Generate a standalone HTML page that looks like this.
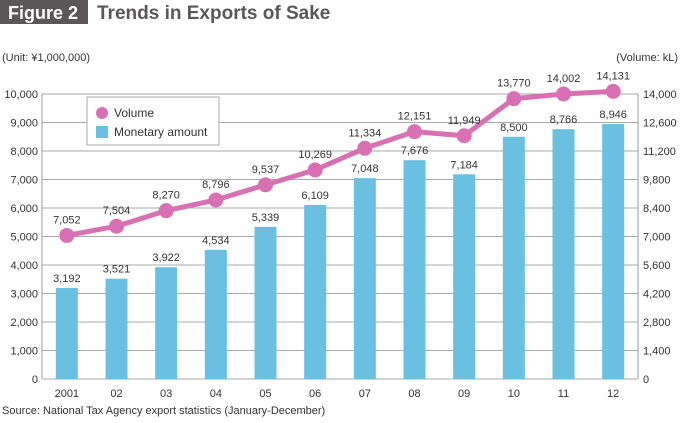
<!DOCTYPE html>
<html><head><meta charset="utf-8"><style>
body{margin:0;background:#fff;font-family:"Liberation Sans",sans-serif;}
svg text{font-family:"Liberation Sans",sans-serif;}
</style></head><body>
<svg id="c" width="680" height="418" xmlns="http://www.w3.org/2000/svg">
<rect x="0" y="0" width="88" height="24" fill="#595757"/>
<text x="8" y="19" font-size="18" font-weight="bold" fill="#fff">Figure 2</text>
<text x="97" y="19" font-size="19" font-weight="bold" fill="#595757">Trends in Exports of Sake</text>
<text x="2" y="61" font-size="11" fill="#333">(Unit: ¥1,000,000)</text>
<text x="678" y="61" font-size="11" fill="#333" text-anchor="end">(Volume: kL)</text>
<g id="grid"></g><g id="bars"></g><g id="line"></g><g id="labels"></g>
<g>
<rect x="87" y="97" width="132" height="48" fill="#fff" stroke="#aaa"/>
<circle cx="102" cy="113" r="6" fill="#d970b4"/>
<text x="114" y="117" font-size="12" fill="#333">Volume</text>
<rect x="96" y="126" width="12" height="12" fill="#6ac0e0"/>
<text x="114" y="136" font-size="12" fill="#333">Monetary amount</text>
</g>
<text x="2" y="414" font-size="11" fill="#333">Source: National Tax Agency export statistics (January-December)</text>
</svg>
<script>
const categories=["2001","02","03","04","05","06","07","08","09","10","11","12"];
const amount=[3192,3521,3922,4534,5339,6109,7048,7676,7184,8500,8766,8946];
const volume=[7052,7504,8270,8796,9537,10269,11334,12151,11949,13770,14002,14131];
const leftTicks=[0,1000,2000,3000,4000,5000,6000,7000,8000,9000,10000];
const rightTicks=[0,1400,2800,4200,5600,7000,8400,9800,11200,12600,14000];
const L=42,R=638,T=94,B=379;
const xc=i=>L+(i+0.5)*(R-L)/categories.length;
const yL=v=>B-v/10000*(B-T);
const yR=v=>B-v/14000*(B-T);
const NS="http://www.w3.org/2000/svg";
function mk(p,t,a){const e=document.createElementNS(NS,t);for(const k in a)e.setAttribute(k,a[k]);document.getElementById(p).appendChild(e);return e;}
const fmt=v=>v.toLocaleString("en-US");
leftTicks.forEach((v,i)=>{
 const g=mk("grid","line",{x1:L,x2:R,y1:yL(v),y2:yL(v),stroke:"#aaa","stroke-width":1});
 
 
 const t=mk("grid","text",{x:L-4,y:yL(v)+4,"font-size":11,fill:"#333","text-anchor":"end"});t.textContent=fmt(v);
 
 
});
rightTicks.forEach(v=>{
 const t=mk("grid","text",{x:R+5,y:yR(v)+4,"font-size":11,fill:"#333"});t.textContent=fmt(v);
 
 
});
let a=mk("grid","line",{x1:L,x2:L,y1:T,y2:B,stroke:"#999"});


a=mk("grid","line",{x1:R,x2:R,y1:T,y2:B,stroke:"#999"});


categories.forEach((c,i)=>{
 const t=mk("labels","text",{x:xc(i),y:397,"font-size":11,fill:"#333","text-anchor":"middle"});t.textContent=c;
 
 
 const b=mk("bars","rect",{x:xc(i)-11,y:yL(amount[i]),width:22,height:B-yL(amount[i]),fill:"#6ac0e0"});
 
 
 const bl=mk("labels","text",{x:xc(i),y:yL(amount[i])-6,"font-size":11,fill:"#333","text-anchor":"middle"});bl.textContent=fmt(amount[i]);
 
 
 const vl=mk("labels","text",{x:xc(i),y:yR(volume[i])-12,"font-size":11,fill:"#333","text-anchor":"middle"});vl.textContent=fmt(volume[i]);
 
 
});
const pl=mk("line","polyline",{points:volume.map((v,i)=>xc(i)+","+yR(v)).join(" "),fill:"none",stroke:"#d970b4","stroke-width":5});


volume.forEach((v,i)=>{
 const p=mk("line","circle",{cx:xc(i),cy:yR(v),r:7.5,fill:"#d970b4"});
 
 
});
</script>
</body></html>
